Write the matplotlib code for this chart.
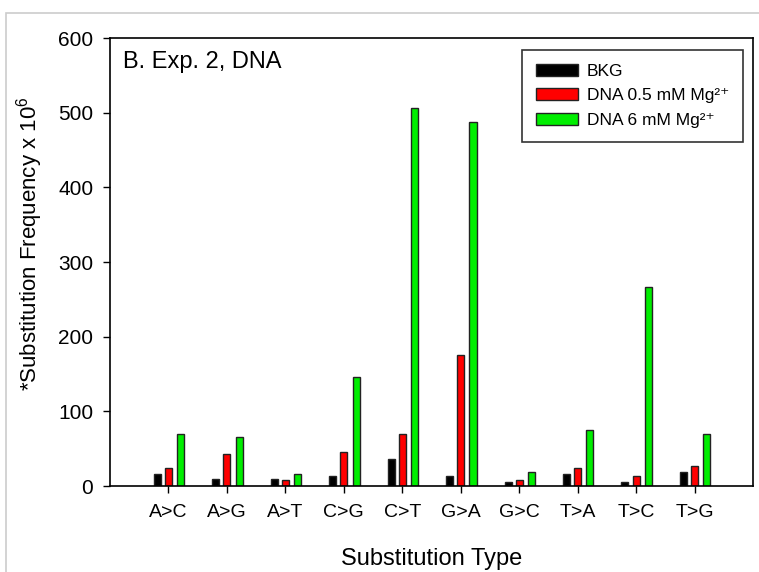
import numpy as np
import matplotlib
matplotlib.use("Agg")
import matplotlib.pyplot as plt
from matplotlib.patches import Rectangle

plt.rcParams["font.family"] = ["Liberation Sans", "DejaVu Sans"]
plt.rcParams["mathtext.fontset"] = "custom"
plt.rcParams["mathtext.rm"] = "Liberation Sans"
plt.rcParams["mathtext.it"] = "Liberation Sans"

categories = ["A>C", "A>G", "A>T", "C>G", "C>T", "G>A", "G>C", "T>A", "T>C", "T>G"]
bkg      = [16.5, 9, 9, 13, 36, 14, 6, 16, 6, 19]
dna_05mm = [24.5, 43, 8, 45, 70, 175, 8.5, 24.5, 13, 27]
dna_6mm  = [70, 65, 16, 146, 506, 487, 19, 75, 266, 70]

series_names  = ["BKG", "DNA 0.5 mM Mg\u00b2\u207a", "DNA 6 mM Mg\u00b2\u207a"]
series_colors = ["black", "#ff0000", "#00ee00"]

fig = plt.figure(figsize=(7.59, 5.72), dpi=100)
fig.patches.append(Rectangle((6 / 759, -0.1), 1.2, 1 - 13 / 572 + 0.1,
                             transform=fig.transFigure, fill=False,
                             edgecolor="#cccccc", linewidth=1.2))
ax = fig.add_axes([110 / 759, 86 / 572, 643 / 759, 448 / 572])

x = np.arange(1, len(categories) + 1)
width = 0.12
offsets = [-0.19, 0.0, 0.21]
for vals, name, col, off in zip([bkg, dna_05mm, dna_6mm], series_names,
                                series_colors, offsets):
    ax.bar(x + off, vals, width, color=col, edgecolor="#222222",
           linewidth=1.0, label=name)

ax.set_xlim(0, 11)
ax.set_ylim(0, 600)
ax.set_xticks(x)
ax.set_xticklabels(categories, fontsize=14)
ax.set_yticks(range(0, 601, 100))
ax.tick_params(axis="y", labelsize=15, direction="out", length=5, width=1, pad=7)
ax.tick_params(axis="x", direction="out", length=5, width=1, pad=8)
for s in ax.spines.values():
    s.set_linewidth(1.2)

ax.set_xlabel("Substitution Type", fontsize=17)
ax.xaxis.set_label_coords(0.5, -0.138)
ax.set_ylabel("*Substitution Frequency x 10$^6$", fontsize=16)
ax.yaxis.set_label_coords(-0.101, 0.54)
ax.text(0.02, 0.972, "B. Exp. 2, DNA", transform=ax.transAxes,
        fontsize=17, va="top", ha="left")

leg = ax.legend(loc="upper right", bbox_to_anchor=(0.984, 0.974),
                fontsize=12.5, frameon=True, fancybox=False,
                handlelength=2.4, handleheight=0.7, borderpad=0.8,
                labelspacing=0.55, handletextpad=0.5, borderaxespad=0)
leg.get_frame().set_edgecolor("black")
leg.get_frame().set_linewidth(1.2)

fig.savefig("out.png", dpi=100)
